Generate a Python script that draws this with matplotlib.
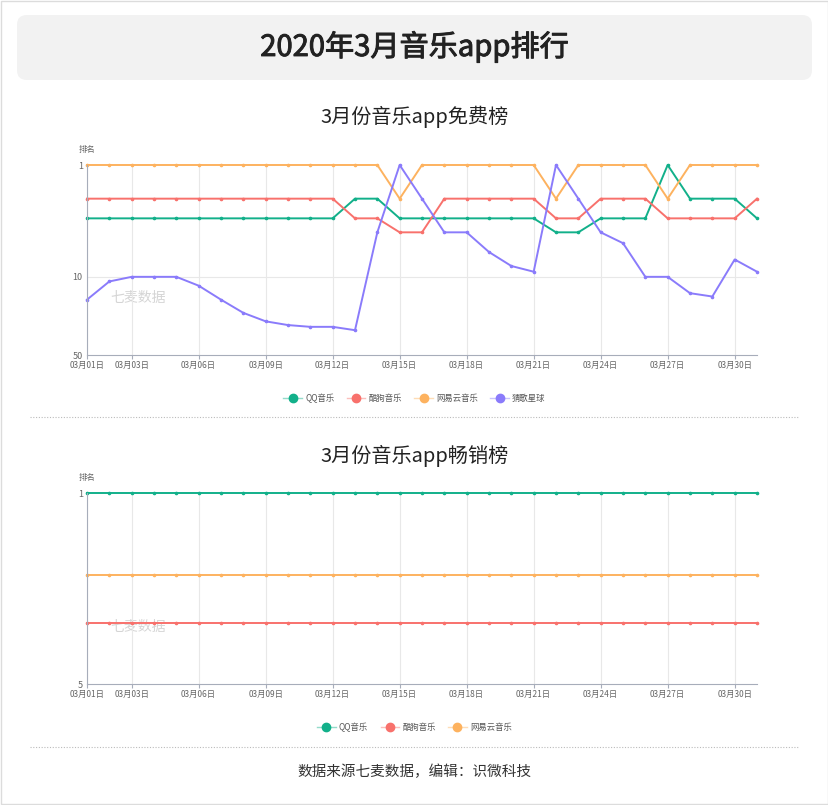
import matplotlib
matplotlib.use('Agg')
import matplotlib.pyplot as plt
import matplotlib.patheffects as pe
from matplotlib.patches import FancyBboxPatch, Rectangle
from matplotlib.lines import Line2D
from matplotlib.colors import to_rgba
from matplotlib.ticker import FixedLocator, NullLocator, FixedFormatter

plt.rcParams['font.family'] = ['Noto Sans CJK SC', 'DejaVu Sans']

days = list(range(1, 32))
tick_days = [1, 3, 6, 9, 12, 15, 18, 21, 24, 27, 30]
tick_labels = ['03月%02d日' % d for d in tick_days]

# free chart ranks
free_qq = [3] * 12 + [2, 2] + [3] * 7 + [4, 4] + [3, 3, 3] + [1] + [2, 2, 2] + [3]
free_kugou = [2] * 12 + [3, 3] + [4, 4] + [2] * 5 + [3, 3] + [2, 2, 2] + [3, 3, 3, 3] + [2]
free_netease = [1] * 14 + [2] + [1] * 6 + [2] + [1] * 4 + [2] + [1] * 4
free_caige = [16, 11, 10, 10, 10, 12, 16, 21, 25, 27, 28, 28, 30, 4, 1, 2, 4, 4, 6, 8, 9,
              1, 2, 4, 5, 10, 10, 14, 15, 7, 9]

# top-grossing chart ranks
paid_qq = [1] * 31
paid_kugou = [3] * 31
paid_netease = [2] * 31

names = ['QQ音乐', '酷狗音乐', '网易云音乐', '猜歌星球']
colors = ['#12b08a', '#f8716c', '#fdb25f', '#8a7bfb']

fig = plt.figure(figsize=(8.29, 8.05), dpi=100)

# outer border
fig.patches.append(Rectangle((0.001, 0.001), 0.998, 0.998, transform=fig.transFigure,
                             fill=False, edgecolor='#dcdcdc', linewidth=1))
# title box
fig.patches.append(FancyBboxPatch((17 / 829, 1 - 80 / 805), 795 / 829, 65 / 805,
                                  boxstyle='round,pad=0,rounding_size=0.012',
                                  transform=fig.transFigure, facecolor='#f2f2f2',
                                  edgecolor='none'))
fig.text(0.5, 1 - 47 / 805, '2020年3月音乐app排行', ha='center', va='center',
         fontsize=21, color='#222222',
         path_effects=[pe.withStroke(linewidth=0.7, foreground='#222222')])
fig.text(0.5, 1 - 117 / 805, '3月份音乐app免费榜', ha='center', va='center',
         fontsize=14.5, color='#222222')
fig.text(0.5, 1 - 456 / 805, '3月份音乐app畅销榜', ha='center', va='center',
         fontsize=14.5, color='#222222')
fig.text(0.5, 1 - 772 / 805, '数据来源七麦数据，编辑：识微科技', ha='center', va='center',
         fontsize=10.5, color='#333333')

for yy in (417, 747):
    fig.add_artist(Line2D([30 / 829, 799 / 829], [1 - yy / 805] * 2, transform=fig.transFigure,
                          color='#bbbbbb', linewidth=0.8, linestyle=(0, (1, 1.5))))


def style_axes(ax, ymax, yticks):
    ax.set_xlim(1, 31)
    ax.set_yscale('log')
    ax.set_ylim(ymax, 1)
    ax.yaxis.set_major_locator(FixedLocator(yticks))
    ax.yaxis.set_major_formatter(FixedFormatter([str(t) for t in yticks]))
    ax.yaxis.set_minor_locator(NullLocator())
    ax.set_xticks(tick_days)
    ax.set_xticklabels(tick_labels)
    ax.tick_params(axis='x', labelsize=6, colors='#666666', length=3, pad=1, color='#a7adba')
    ax.tick_params(axis='y', labelsize=6.5, colors='#666666', length=0, pad=3)
    ax.grid(axis='x', color='#e8e8e8', linewidth=0.8)
    for s in ('top', 'right'):
        ax.spines[s].set_visible(False)
    for s in ('left', 'bottom'):
        ax.spines[s].set_color('#a7adba')
        ax.spines[s].set_linewidth(0.8)
    ax.set_axisbelow(True)
    ax.text(-0.012, 1.06, '排名', transform=ax.transAxes, fontsize=6, color='#666666',
            ha='left', va='bottom')
    ax.text(0.035, 0.3, '七麦数据', transform=ax.transAxes, fontsize=10, color='#d5d5d5',
            ha='left', va='center', zorder=0)


def legend_handles(cols):
    return [Line2D([], [], color=to_rgba(c, 0.45), linewidth=1, marker='o', markersize=6,
                   markerfacecolor=c, markeredgecolor=c) for c in cols]


W = 670 / 829
L = 87 / 829

ax1 = fig.add_axes([L, 1 - 355 / 805, W, 190 / 805])
style_axes(ax1, 50, [1, 10, 50])
ax1.axhline(10, color='#e8e8e8', linewidth=0.8, zorder=0)
for series, c, n in zip([free_qq, free_kugou, free_netease, free_caige], colors, names):
    ax1.plot(days, series, color=c, linewidth=1.4, marker='o', markersize=1.6, label=n,
             clip_on=False)
fig.legend(legend_handles(colors), names, loc='center', bbox_to_anchor=(0.5, 1 - 398 / 805),
           ncol=4, frameon=False, fontsize=6, handlelength=2.2, columnspacing=1.5,
           handletextpad=0.4, labelcolor='#555555')

ax2 = fig.add_axes([L, 1 - 684 / 805, W, 191 / 805])
style_axes(ax2, 5, [1, 5])
for series, c, n in zip([paid_qq, paid_kugou, paid_netease], colors[:3], names[:3]):
    ax2.plot(days, series, color=c, linewidth=1.4, marker='o', markersize=1.6, label=n,
             clip_on=False)
fig.legend(legend_handles(colors[:3]), names[:3], loc='center',
           bbox_to_anchor=(0.5, 1 - 727 / 805), ncol=3, frameon=False, fontsize=6,
           handlelength=2.2, columnspacing=1.5, handletextpad=0.4, labelcolor='#555555')

fig.savefig('out.png', dpi=100)
